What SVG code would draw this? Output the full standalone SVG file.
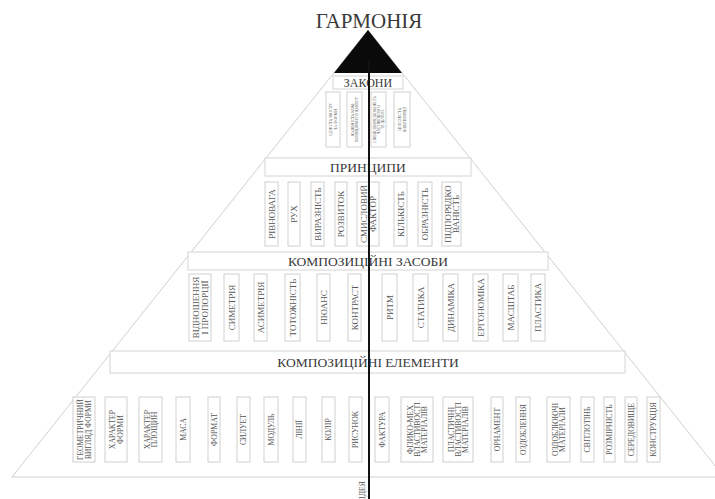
<svg xmlns="http://www.w3.org/2000/svg" width="715" height="499" viewBox="0 0 715 499">
<style>
.bg{fill:#ffffff}
.pyr{fill:none;stroke:#cfcfcf;stroke-width:1}
.hdr{fill:#ffffff;stroke:#d4d4d4;stroke-width:1}
.box{fill:#ffffff;stroke:#d0d0d0;stroke-width:1}
.ht{font-family:"Liberation Serif","DejaVu Serif",serif;fill:#3a3a3a;text-anchor:middle}
.vt{font-family:"Liberation Serif","DejaVu Serif",serif;fill:#555;text-anchor:middle}
.p{font-size:9px}
.e{font-size:7.8px}
.l{font-size:4px}
.axis{stroke:#111;stroke-width:2;fill:none}
</style>
<rect class="bg" x="0" y="0" width="715" height="499"/>
<g id="pyramid">
<path class="pyr" d="M12 477 L368 30 L724 477 Z"/>
</g>
<g id="harmony">
<text class="ht" x="369" y="28" font-size="21">ГАРМОНІЯ</text>
<path d="M368 30 L334 73 L402 73 Z" fill="#0a0a0a"/>
</g>
<g id="h-zakony"><rect class="hdr" x="333" y="76" width="70" height="13"/><text class="ht" x="368" y="87" font-size="12">ЗАКОНИ</text></g>
<g id="l1"><rect class="box" x="326" y="92" width="14" height="55"/><text class="vt l" transform="translate(333 119.5) rotate(-90)"><tspan x="0" y="-0.8">ЄДНІСТЬ ЗМІСТУ</tspan><tspan x="0" y="3.6">ТА ФОРМИ</tspan></text></g>
<g id="l2"><rect class="box" x="347" y="92" width="15" height="55"/><text class="vt l" transform="translate(354.5 119.5) rotate(-90)"><tspan x="0" y="-0.8">НАЯВНІСТЬ КОМ-</tspan><tspan x="0" y="3.6">ПОЗИЦІЙНОГО ЦЕНТРУ</tspan></text></g>
<g id="l3"><rect class="box" x="371" y="92" width="15" height="55"/><text class="vt l" style="font-size:3.6px" transform="translate(378.5 119.5) rotate(-90)"><tspan x="0" y="-2.8">СПІВПІДПОРЯДКОВАНІСТЬ</tspan><tspan x="0" y="1.2">ЧАСТИН ЦІЛОГО</tspan><tspan x="0" y="5.2">ТА ЦІЛОГО</tspan></text></g>
<g id="l4"><rect class="box" x="394" y="92" width="16" height="55"/><text class="vt l" transform="translate(402 119.5) rotate(-90)"><tspan x="0" y="-0.8">ЦІЛІСНІСТЬ</tspan><tspan x="0" y="3.6">КОМПОЗИЦІЇ</tspan></text></g>
<g id="h-pryntsypy"><rect class="hdr" x="265" y="158" width="206" height="18"/><text class="ht" x="368" y="172" font-size="13.5">ПРИНЦИПИ</text></g>
<g id="p1"><rect class="box" x="265" y="182" width="13" height="64"/><text class="vt p" transform="translate(271.5 214) rotate(-90)" y="3.2">РІВНОВАГА</text></g>
<g id="p2"><rect class="box" x="288" y="182" width="12" height="64"/><text class="vt p" transform="translate(294 214) rotate(-90)" y="3.2">РУХ</text></g>
<g id="p3"><rect class="box" x="311" y="182" width="13" height="64"/><text class="vt p" transform="translate(317.5 214) rotate(-90)" y="3.2">ВИРАЗНІСТЬ</text></g>
<g id="p4"><rect class="box" x="335" y="182" width="12" height="64"/><text class="vt p" transform="translate(341 214) rotate(-90)" y="3.2">РОЗВИТОК</text></g>
<g id="p5"><rect class="box" x="357" y="182" width="22" height="64"/><text class="vt p" transform="translate(368 214) rotate(-90)"><tspan x="0" y="-1">СМИСЛОВИЙ</tspan><tspan x="0" y="7.5">ФАКТОР</tspan></text></g>
<g id="p6"><rect class="box" x="394" y="182" width="13" height="64"/><text class="vt p" transform="translate(400.5 214) rotate(-90)" y="3.2">КІЛЬКІСТЬ</text></g>
<g id="p7"><rect class="box" x="418" y="182" width="14" height="64"/><text class="vt p" transform="translate(425 214) rotate(-90)" y="3.2">ОБРАЗНІСТЬ</text></g>
<g id="p8"><rect class="box" x="442" y="182" width="19" height="64"/><text class="vt p" transform="translate(451.5 214) rotate(-90)"><tspan x="0" y="-0.5">ПІДПОРЯДКО</tspan><tspan x="0" y="7.5">ВАНІСТЬ</tspan></text></g>
<g id="h-zasoby"><rect class="hdr" x="188" y="252" width="360" height="18"/><text class="ht" x="368" y="266" font-size="13.5">КОМПОЗИЦІЙНІ ЗАСОБИ</text></g>
<g id="m1"><rect class="box" x="189" y="274" width="22" height="67"/><text class="vt p" transform="translate(200 307.5) rotate(-90)"><tspan x="0" y="-1">ВІДНОШЕННЯ</tspan><tspan x="0" y="7.5">І ПРОПОРЦІЇ</tspan></text></g>
<g id="m2"><rect class="box" x="224" y="274" width="15" height="67"/><text class="vt p" transform="translate(231.5 307.5) rotate(-90)" y="3.2">СИМЕТРІЯ</text></g>
<g id="m3"><rect class="box" x="254" y="274" width="13" height="67"/><text class="vt p" transform="translate(260.5 307.5) rotate(-90)" y="3.2">АСИМЕТРІЯ</text></g>
<g id="m4"><rect class="box" x="285" y="274" width="15" height="67"/><text class="vt p" transform="translate(292.5 307.5) rotate(-90)" y="3.2">ТОТОЖНІСТЬ</text></g>
<g id="m5"><rect class="box" x="317" y="274" width="13" height="67"/><text class="vt p" transform="translate(323.5 307.5) rotate(-90)" y="3.2">НЮАНС</text></g>
<g id="m6"><rect class="box" x="348" y="274" width="13" height="67"/><text class="vt p" transform="translate(354.5 307.5) rotate(-90)" y="3.2">КОНТРАСТ</text></g>
<g id="m7"><rect class="box" x="382" y="274" width="15" height="67"/><text class="vt p" transform="translate(389.5 307.5) rotate(-90)" y="3.2">РИТМ</text></g>
<g id="m8"><rect class="box" x="413" y="274" width="15" height="67"/><text class="vt p" transform="translate(420.5 307.5) rotate(-90)" y="3.2">СТАТИКА</text></g>
<g id="m9"><rect class="box" x="443" y="274" width="15" height="67"/><text class="vt p" transform="translate(450.5 307.5) rotate(-90)" y="3.2">ДИНАМІКА</text></g>
<g id="m10"><rect class="box" x="473" y="274" width="15" height="67"/><text class="vt p" transform="translate(480.5 307.5) rotate(-90)" y="3.2">ЕРГОНОМІКА</text></g>
<g id="m11"><rect class="box" x="503" y="274" width="15" height="67"/><text class="vt p" transform="translate(510.5 307.5) rotate(-90)" y="3.2">МАСШТАБ</text></g>
<g id="m12"><rect class="box" x="531" y="274" width="14" height="67"/><text class="vt p" transform="translate(538 307.5) rotate(-90)" y="3.2">ПЛАСТИКА</text></g>
<g id="h-elementy"><rect class="hdr" x="110" y="351" width="515" height="22"/><text class="ht" x="368" y="367" font-size="13.5">КОМПОЗИЦІЙНІ ЕЛЕМЕНТИ</text></g>
<g id="e1"><rect class="box" x="73" y="397" width="22" height="65"/><text class="vt e" style="font-size:7.5px" transform="translate(84 429.5) rotate(-90)"><tspan x="0" y="-1">ГЕОМЕТРИЧНИЙ</tspan><tspan x="0" y="6.5">ВИГЛЯД ФОРМИ</tspan></text></g>
<g id="e2"><rect class="box" x="105" y="397" width="22" height="65"/><text class="vt e" transform="translate(116 429.5) rotate(-90)"><tspan x="0" y="-1">ХАРАКТЕР</tspan><tspan x="0" y="6.5">ФОРМИ</tspan></text></g>
<g id="e3"><rect class="box" x="139" y="397" width="23" height="65"/><text class="vt e" transform="translate(150.5 429.5) rotate(-90)"><tspan x="0" y="-1">ХАРАКТЕР</tspan><tspan x="0" y="6.5">ПЛОЩИН</tspan></text></g>
<g id="e4"><rect class="box" x="176" y="397" width="14" height="65"/><text class="vt e" transform="translate(183 429.5) rotate(-90)" y="2.8">МАСА</text></g>
<g id="e5"><rect class="box" x="208" y="397" width="12" height="65"/><text class="vt e" transform="translate(214 429.5) rotate(-90)" y="2.8">ФОРМАТ</text></g>
<g id="e6"><rect class="box" x="237" y="397" width="13" height="65"/><text class="vt e" transform="translate(243.5 429.5) rotate(-90)" y="2.8">СИЛУЕТ</text></g>
<g id="e7"><rect class="box" x="264" y="397" width="14" height="65"/><text class="vt e" transform="translate(271 429.5) rotate(-90)" y="2.8">МОДУЛЬ</text></g>
<g id="e8"><rect class="box" x="293" y="397" width="13" height="65"/><text class="vt e" transform="translate(299.5 429.5) rotate(-90)" y="2.8">ЛІНІЇ</text></g>
<g id="e9"><rect class="box" x="322" y="397" width="13" height="65"/><text class="vt e" transform="translate(328.5 429.5) rotate(-90)" y="2.8">КОЛІР</text></g>
<g id="e10"><rect class="box" x="349" y="397" width="13" height="65"/><text class="vt e" transform="translate(355.5 429.5) rotate(-90)" y="2.8">РИСУНОК</text></g>
<g id="e11"><rect class="box" x="375" y="397" width="14" height="65"/><text class="vt e" transform="translate(382 429.5) rotate(-90)" y="2.8">ФАКТУРА</text></g>
<g id="e12"><rect class="box" x="401" y="397" width="32" height="65"/><text class="vt e" transform="translate(417 429.5) rotate(-90)"><tspan x="0" y="-4.5">ФІЗИКО-МЕХ</tspan><tspan x="0" y="2.8">ВЛАСТИВОСТІ</tspan><tspan x="0" y="10.1">МАТЕРІАЛІВ</tspan></text></g>
<g id="e13"><rect class="box" x="443" y="397" width="30" height="65"/><text class="vt e" transform="translate(458 429.5) rotate(-90)"><tspan x="0" y="-4.5">ПЛАСТИЧНІ</tspan><tspan x="0" y="2.8">ВЛАСТИВОСТІ</tspan><tspan x="0" y="10.1">МАТЕРІАЛІВ</tspan></text></g>
<g id="e14"><rect class="box" x="491" y="397" width="12" height="65"/><text class="vt e" transform="translate(497 429.5) rotate(-90)" y="2.8">ОРНАМЕНТ</text></g>
<g id="e15"><rect class="box" x="516" y="397" width="14" height="65"/><text class="vt e" transform="translate(523 429.5) rotate(-90)" y="2.8">ОЗДОБЛЕННЯ</text></g>
<g id="e16"><rect class="box" x="547" y="397" width="23" height="65"/><text class="vt e" transform="translate(558.5 429.5) rotate(-90)"><tspan x="0" y="-1">ОЗДОБЛЮЮЧІ</tspan><tspan x="0" y="6.5">МАТЕРІАЛИ</tspan></text></g>
<g id="e17"><rect class="box" x="581" y="397" width="13" height="65"/><text class="vt e" transform="translate(587.5 429.5) rotate(-90)" y="2.8">СВІТЛОТІНЬ</text></g>
<g id="e18"><rect class="box" x="604" y="397" width="11" height="65"/><text class="vt e" transform="translate(609.5 429.5) rotate(-90)" y="2.8">РОЗМІРНІСТЬ</text></g>
<g id="e19"><rect class="box" x="625" y="397" width="12" height="65"/><text class="vt e" transform="translate(631 429.5) rotate(-90)" y="2.8">СЕРЕДОВИЩЕ</text></g>
<g id="e20"><rect class="box" x="647" y="397" width="13" height="65"/><text class="vt e" transform="translate(653.5 429.5) rotate(-90)" y="2.8">КОНСТРУКЦІЯ</text></g>
<g id="idea"><text class="vt e" style="text-anchor:end" transform="translate(362 481) rotate(-90)" y="2.8">ІДЕЯ</text></g>
<g id="connectors">
<line class="axis" x1="369" y1="60" x2="369" y2="499"/>
</g>
</svg>
